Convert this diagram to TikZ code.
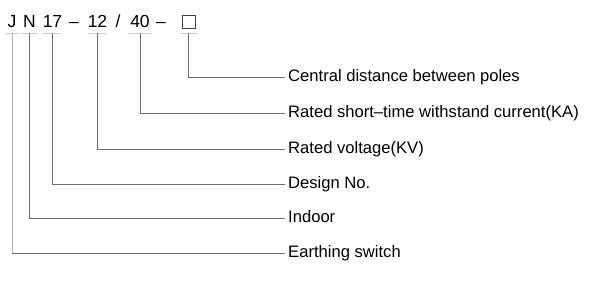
\documentclass[tikz,border=0pt]{standalone}
\usepackage{fontspec}
\setmainfont{Liberation Sans}
\usetikzlibrary{positioning,calc}
\definecolor{uLine}{HTML}{707070}
\definecolor{uPale}{HTML}{B4B4B4}
\definecolor{uUnder}{HTML}{CFCFCF}
\tikzset{
  code/.style={font=\fontsize{17.5}{20}\selectfont, inner sep=0pt,
               text height=12.5pt, text depth=0pt, anchor=base},
  part/.style={code, minimum width=#1},
  desc/.style={font=\fontsize{16.6}{19}\selectfont, anchor=west,
               inner xsep=3pt, inner ysep=0pt,
               text height=12pt, text depth=3pt},
  under/.style={draw=uUnder, line width=0.6pt},
  lead/.style={draw=uLine, line width=0.8pt},
  boxmark/.style={draw=black!75, line width=0.9pt, minimum width=13pt,
                  minimum height=13pt, inner sep=0pt},
}

\begin{document}
\begin{tikzpicture}[x=1pt, y=1pt]
\useasboundingbox (0,0) rectangle (599,-286);

\def\L{285}   % x where the leaders end and the texts begin

%% ── the type code ───────────────────────────────────────────────────────
\node[part=14pt] (J)   at (12,-28)    {J};
\node[part=15pt] (N)   at (29.5,-28)  {N};
\node[part=19pt] (s17) at (52.5,-28)  {17};
\node[code]      (d1)  at (74,-28)    {--};
\node[part=19pt] (s12) at (97.5,-28)  {12};
\node[code]      (sl)  at (118,-28)   {/};
\node[part=24pt] (s40) at (140,-28)   {40};
\node[code]      (d2)  at (161,-28)   {--};
\node[boxmark]   (box) at (188.5,-22) {};

%% ── underlines ──────────────────────────────────────────────────────────
\foreach \p in {J,N,s17,s12,s40}
  \draw[under] ([yshift=-5pt]\p.south west) -- ([yshift=-5pt]\p.south east);
\draw[under] ([xshift=-2pt,yshift=-4pt]box.south west)
  -- ([xshift=2pt,yshift=-4pt]box.south east);

%% ── meanings ────────────────────────────────────────────────────────────
\node[desc] (tBox) at (\L,-77)  {Central distance between poles};
\node[desc] (t40)  at (\L,-113) {Rated short--time withstand current(KA)};
\node[desc] (t12)  at (\L,-149) {Rated voltage(KV)};
\node[desc] (t17)  at (\L,-184) {Design No.};
\node[desc] (tN)   at (\L,-218) {Indoor};
\node[desc] (tJ)   at (\L,-253) {Earthing switch};

%% ── leaders ─────────────────────────────────────────────────────────────
\draw[lead] ([yshift=-4pt]box.south) |- (tBox.west);
\draw[lead] ([yshift=-5pt]s40.south) |- (t40.west);
\draw[lead] ([yshift=-5pt]s12.south) |- (t12.west);
\draw[lead] ([yshift=-5pt]s17.south) |- (t17.west);
\draw[lead] ([yshift=-5pt]N.south) |- (tN.west);
\draw[lead] ([yshift=-5pt]J.south) |- (tJ.west);
\draw[draw=uPale, line width=1pt] ([yshift=-5pt]J.south) -- (J.south |- tJ.west);

\end{tikzpicture}
\end{document}
